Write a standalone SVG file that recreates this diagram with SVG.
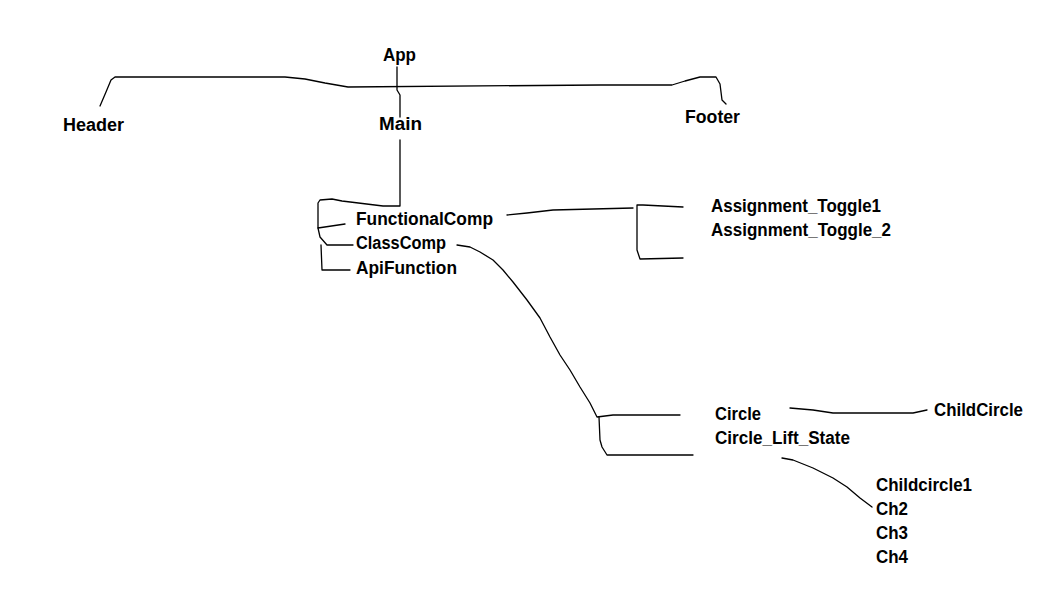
<svg xmlns="http://www.w3.org/2000/svg" width="1057" height="593" viewBox="0 0 1057 593">
<style>
.t{font-family:"Liberation Sans",Arial,sans-serif;font-weight:bold;font-size:17.5px;fill:#000}
.c{fill:none;stroke:#000;stroke-width:1.3;stroke-linejoin:round;stroke-linecap:round}
</style>
<rect width="1057" height="593" fill="#fff"/>
<g id="connectors">
<path class="c" d="M397,67 L397,90 L400,95 L400,117"/>
<path class="c" d="M100,106 L106,92 L111,80 L115,77 L285,77 L305,79 L325,83 L348,87 L600,85 L672,85 L685,81 L700,77 L716,77 L720,84 L722,100 L726,104"/>
<path class="c" d="M400,140 L400,206 L383,206 L342,201 L332,199 L320,200 L318,203 L318,228 L345,224"/>
<path class="c" d="M318,228 L320,237 L327,245 L353,245"/>
<path class="c" d="M321,245 L322,270 L350,270"/>
<path class="c" d="M507,215 L527,213 L553,210 L633,208"/>
<path class="c" d="M683,207 L643,205 L637,205 L637,250 L640,259 L683,258"/>
<path class="c" d="M457,245 L470,247 L480,252 L493,260 L503,270 L513,282 L527,300 L540,318 L550,337 L560,355 L570,370 L580,387 L590,403 L597,417 L613,415 L680,415"/>
<path class="c" d="M599,417 L600,440 L602,447 L607,455 L693,455"/>
<path class="c" d="M790,408 L813,410 L833,413 L913,413 L927,410"/>
<path class="c" d="M782,458 L793,460 L813,468 L833,478 L847,487 L860,498 L872,507"/>
</g>
<g id="n-app"><text class="t" x="383" y="61" textLength="33" lengthAdjust="spacingAndGlyphs">App</text></g>
<g id="n-header"><text class="t" x="63" y="131" textLength="61" lengthAdjust="spacingAndGlyphs">Header</text></g>
<g id="n-main"><text class="t" x="379" y="130" textLength="43" lengthAdjust="spacingAndGlyphs">Main</text></g>
<g id="n-footer"><text class="t" x="685" y="123" textLength="55" lengthAdjust="spacingAndGlyphs">Footer</text></g>
<g id="n-functionalcomp"><text class="t" x="356" y="225" textLength="137" lengthAdjust="spacingAndGlyphs">FunctionalComp</text></g>
<g id="n-classcomp"><text class="t" x="356" y="249" textLength="90" lengthAdjust="spacingAndGlyphs">ClassComp</text></g>
<g id="n-apifunction"><text class="t" x="356" y="274" textLength="101" lengthAdjust="spacingAndGlyphs">ApiFunction</text></g>
<g id="n-toggle1"><text class="t" x="711" y="212" textLength="170" lengthAdjust="spacingAndGlyphs">Assignment_Toggle1</text></g>
<g id="n-toggle2"><text class="t" x="711" y="236" textLength="180" lengthAdjust="spacingAndGlyphs">Assignment_Toggle_2</text></g>
<g id="n-circle"><text class="t" x="715" y="420" textLength="46" lengthAdjust="spacingAndGlyphs">Circle</text></g>
<g id="n-circleliftstate"><text class="t" x="715" y="444" textLength="135" lengthAdjust="spacingAndGlyphs">Circle_Lift_State</text></g>
<g id="n-childcircle"><text class="t" x="934" y="416" textLength="89" lengthAdjust="spacingAndGlyphs">ChildCircle</text></g>
<g id="n-childcircle1"><text class="t" x="876" y="491" textLength="96" lengthAdjust="spacingAndGlyphs">Childcircle1</text></g>
<g id="n-ch2"><text class="t" x="876" y="515" textLength="32" lengthAdjust="spacingAndGlyphs">Ch2</text></g>
<g id="n-ch3"><text class="t" x="876" y="539" textLength="32" lengthAdjust="spacingAndGlyphs">Ch3</text></g>
<g id="n-ch4"><text class="t" x="876" y="563" textLength="32" lengthAdjust="spacingAndGlyphs">Ch4</text></g>
</svg>
